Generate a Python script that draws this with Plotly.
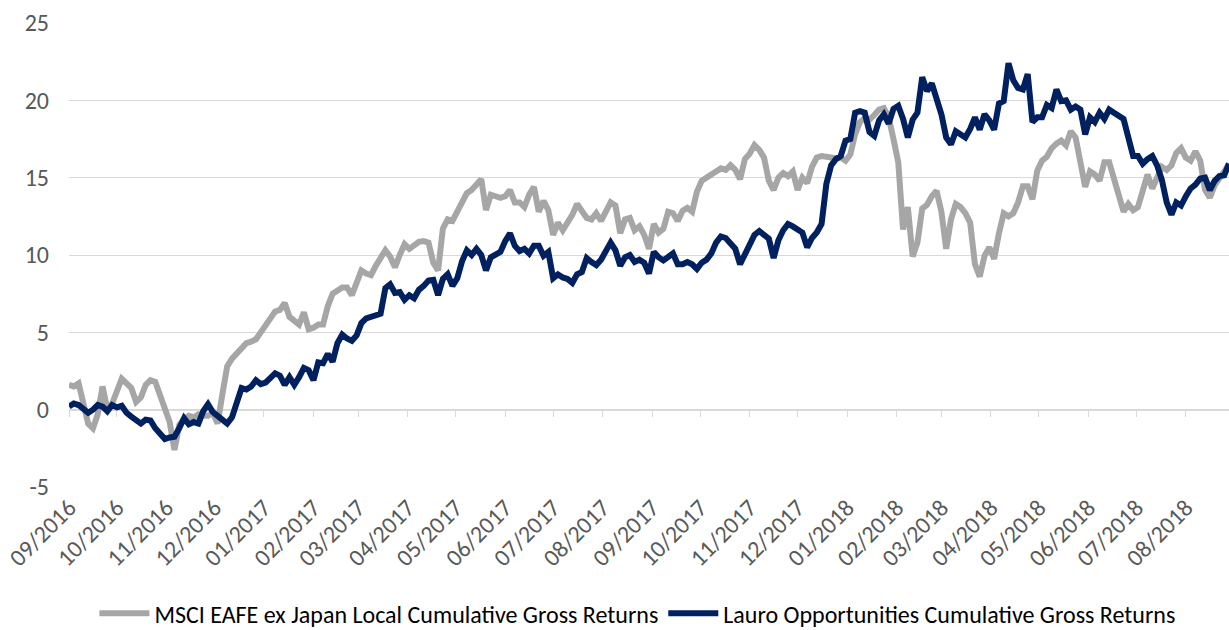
import pandas as pd
import plotly.graph_objects as go

start_date = "2016-09-01"
step = "3D"

series_names = [
    "MSCI EAFE ex Japan Local Cumulative Gross Returns",
    "Lauro Opportunities Cumulative Gross Returns",
]

msci = [
    1.6, 1.5, 1.7, 0.4, -0.9, -1.2, -0.3, 1.5, 0.0, 0.4,
    1.2, 2.0, 1.7, 1.4, 0.5, 0.8, 1.6, 1.9, 1.8, 1.0,
    0.2, -0.8, -2.6, -1.0, -0.6, -0.4, -0.5, -0.3, -0.4, -0.4,
    -0.2, -0.9, 1.0, 2.8, 3.3, 3.65, 3.9, 4.3, 4.4, 4.55,
    5.0, 5.5, 6.0, 6.35, 6.45, 6.9, 6.0, 5.8, 5.5, 6.3,
    5.2, 5.3, 5.5, 5.5, 6.7, 7.5, 7.75, 7.9, 7.9, 7.4,
    8.2, 9.0, 8.8, 8.7, 9.3, 9.75, 10.3, 9.9, 9.2, 10.0,
    10.7, 10.4, 10.6, 10.85, 10.9, 10.8, 9.5, 9.0, 11.7, 12.3,
    12.2, 12.8, 13.5, 14.0, 14.2, 14.6, 14.9, 12.9, 13.9, 13.8,
    13.7, 13.8, 14.2, 13.4, 13.4, 13.1, 13.9, 14.4, 12.8, 13.5,
    12.9, 11.3, 12.1, 11.6, 12.1, 12.6, 13.3, 12.8, 12.4, 12.3,
    12.7, 12.2, 12.8, 13.4, 13.2, 11.4, 12.3, 12.4, 11.6, 11.85,
    11.3, 10.4, 12.0, 11.45, 11.7, 12.8, 12.7, 12.2, 12.85, 13.05,
    12.8, 14.1, 14.8, 14.95, 15.2, 15.4, 15.6, 15.5, 15.8, 15.5,
    14.9, 16.2, 16.55, 17.1, 16.8, 16.3, 14.8, 14.2, 15.0, 15.3,
    15.1, 15.4, 14.2, 15.0, 14.65, 15.7, 16.3, 16.4, 16.3, 16.3,
    16.25, 16.3, 16.1, 16.5, 17.8, 18.6, 18.85, 18.75, 19.05, 19.4,
    19.5, 18.9, 17.5, 16.0, 11.65, 13.1, 9.9, 10.8, 13.0, 13.25,
    13.8, 14.15, 12.8, 10.4, 12.3, 13.3, 13.1, 12.7, 12.1, 9.4,
    8.6, 9.95, 10.5, 9.75, 11.4, 12.7, 12.5, 12.7, 13.4, 14.45,
    14.45, 13.6, 15.45, 16.1, 16.35, 16.9, 17.2, 17.4, 17.1, 18.0,
    17.6, 15.9, 14.4, 15.4, 15.2, 14.8, 16.0, 16.0, 14.9, 13.8,
    12.8, 13.3, 12.9, 13.1, 14.3, 15.2, 14.3, 15.1, 15.7, 15.5,
    15.8, 16.6, 16.9, 16.3, 16.1, 16.7, 16.1, 14.2, 13.7, 14.5,
    14.9, 15.4, 15.9,
]

lauro = [
    0.2, 0.4, 0.3, 0.0, -0.2, 0.0, 0.3, 0.2, -0.1, 0.3,
    0.15, 0.25, -0.2, -0.45, -0.7, -0.9, -0.65, -0.7, -1.2, -1.6,
    -1.9, -1.8, -1.75, -1.2, -0.55, -0.95, -0.8, -0.9, -0.1, 0.35,
    -0.15, -0.4, -0.6, -0.9, -0.5, 0.6, 1.4, 1.3, 1.5, 1.9,
    1.65, 1.75, 2.0, 2.35, 2.2, 1.6, 2.1, 1.6, 2.1, 2.7,
    2.55, 1.9, 3.05, 3.0, 3.6, 3.1, 4.3, 4.85, 4.6, 4.45,
    4.8, 5.6, 5.9, 6.0, 6.0, 6.2, 7.85, 8.1, 7.55, 7.6,
    7.1, 7.4, 7.2, 7.75, 8.0, 8.35, 8.4, 7.4, 8.45, 8.75,
    8.0, 8.5, 9.6, 10.3, 10.0, 10.4, 10.0, 9.0, 9.85, 10.0,
    10.2, 10.9, 11.4, 10.6, 10.25, 10.4, 10.1, 10.6, 10.6, 9.95,
    10.2, 8.5, 8.75, 8.55, 8.45, 8.2, 8.75, 8.9, 9.8, 9.55,
    9.35, 9.7, 10.2, 10.8, 10.3, 9.3, 9.85, 10.0, 9.55, 9.7,
    9.5, 8.8, 10.2, 9.85, 9.65, 9.9, 10.1, 9.4, 9.4, 9.55,
    9.4, 9.1, 9.5, 9.7, 10.1, 10.8, 11.2, 11.1, 10.7, 10.4,
    9.4, 10.0, 10.8, 11.3, 11.55, 11.3, 11.05, 9.8, 10.95, 11.6,
    12.0, 11.85, 11.7, 11.45, 10.5, 11.1, 11.45, 12.0, 14.6, 15.8,
    16.2, 16.4, 17.4, 17.5, 19.2, 19.3, 19.2, 17.95, 17.7, 18.7,
    19.1, 18.5, 19.45, 19.65, 18.8, 17.6, 18.75, 19.2, 21.5, 20.6,
    21.1, 20.1, 19.1, 17.6, 17.15, 18.0, 17.8, 17.6, 18.15, 18.9,
    18.1, 19.1, 18.7, 18.1, 19.8, 19.95, 22.4, 21.3, 20.8, 20.7,
    21.7, 18.6, 18.9, 18.9, 19.7, 19.5, 20.7, 19.95, 20.0, 19.4,
    19.6, 19.4, 17.8, 18.9, 18.6, 19.2, 18.8, 19.4, 19.2, 19.0,
    18.8, 17.6, 16.4, 16.4, 15.9, 16.2, 16.4, 15.8, 14.85, 13.4,
    12.6, 13.4, 13.2, 13.8, 14.3, 14.55, 14.95, 15.0, 14.2, 14.8,
    15.1, 15.15, 15.9,
]

x_range = ["2016-09-01", "2018-08-28"]
y_ticks = [-5, 0, 5, 10, 15, 20, 25]
y_tick_labels = ["-5", "0", "5", "10", "15", "20", "25"]

dates = pd.date_range(start_date, periods=len(msci), freq=step)

FONT = "Calibri, Carlito, Lato, sans-serif"
GREY = "#a6a6a6"
NAVY = "#002060"
TXT = "#595959"
GRID = "#d9d9d9"
FS = 24

fig = go.Figure()
fig.add_trace(go.Scatter(x=dates, y=msci, mode="lines", name=series_names[0],
                         line=dict(color=GREY, width=6)))
fig.add_trace(go.Scatter(x=dates, y=lauro, mode="lines", name=series_names[1],
                         line=dict(color=NAVY, width=6)))
# helper (empty) trace so the zero-level category axis with tick marks is rendered
fig.add_trace(go.Scatter(x=[dates[0]], y=[None], xaxis="x2", mode="lines",
                         showlegend=False, hoverinfo="skip"))

fig.update_layout(
    width=1229, height=630,
    margin=dict(l=69, r=0, t=23, b=143),
    paper_bgcolor="white", plot_bgcolor="white",
    font=dict(family=FONT, size=FS, color=TXT),
    showlegend=True,
    legend=dict(orientation="h", x=0.49, xanchor="center",
                yref="container", y=0.026, yanchor="middle",
                font=dict(family=FONT, size=FS, color="#000000"),
                itemwidth=50, tracegroupgap=0),
    xaxis=dict(type="date", range=x_range, dtick="M1", tick0="2016-09-01",
               tickformat="%m/%Y", tickangle=-45, showgrid=False, showline=False,
               zeroline=False, ticks="", ticklabelstandoff=1, automargin=False,
               tickfont=dict(family=FONT, size=FS, color=TXT)),
    xaxis2=dict(type="date", range=x_range, dtick="M1", tick0="2016-09-01",
                overlaying="x", anchor="free", position=1/6, side="bottom",
                showline=True, linecolor=GRID, linewidth=1,
                ticks="outside", ticklen=6, tickcolor=GRID, tickwidth=1,
                showticklabels=False, showgrid=False, zeroline=False,
                layer="below traces", automargin=False),
    yaxis=dict(range=[-5, 25], tickvals=y_ticks, ticktext=y_tick_labels,
               showgrid=True, gridcolor=GRID,
               gridwidth=1, zeroline=False, showline=False, ticks="",
               ticklabelstandoff=19, automargin=False,
               tickfont=dict(family=FONT, size=FS, color=TXT)),
)

fig.write_html("out.html", config={"displayModeBar": False},
               post_script="document.body.style.margin='0';document.body.style.overflow='hidden';")
